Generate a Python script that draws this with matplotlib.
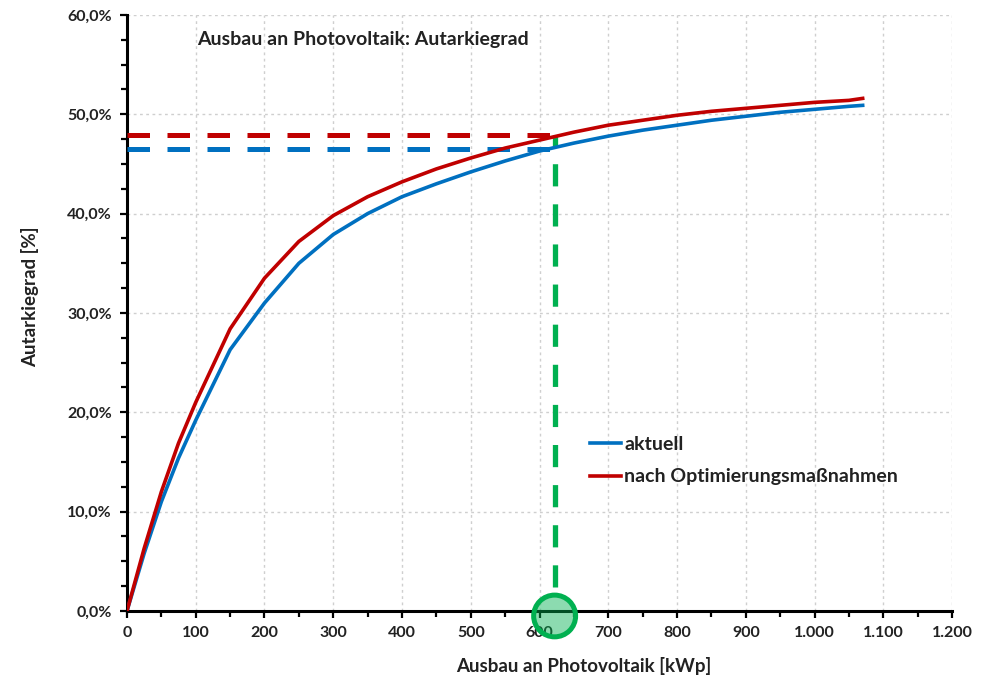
import matplotlib.pyplot as plt
from matplotlib.ticker import MultipleLocator, FuncFormatter
from matplotlib.patches import Ellipse

plt.rcParams['font.family'] = ['Lato', 'DejaVu Sans']

# Daten: Ausbau PV [kWp] und Autarkiegrad [%]
ausbau = [0, 25, 50, 75, 100, 150, 200, 250, 300, 350, 400, 450, 500, 550, 600,
          650, 700, 750, 800, 850, 900, 950, 1000, 1050, 1070]
aktuell = [0.0, 5.8, 11.0, 15.4, 19.2, 26.3, 31.0, 35.0, 37.9, 40.0, 41.7, 43.0,
           44.2, 45.3, 46.3, 47.1, 47.8, 48.4, 48.9, 49.4, 49.8, 50.2, 50.5, 50.8, 50.9]
optimiert = [0.0, 6.3, 12.0, 16.9, 21.0, 28.4, 33.5, 37.2, 39.8, 41.7, 43.2, 44.5,
             45.6, 46.6, 47.4, 48.2, 48.9, 49.4, 49.9, 50.3, 50.6, 50.9, 51.2, 51.4, 51.6]

ausbau_markiert = 622
autarkie_aktuell = 46.5
autarkie_optimiert = 47.9

blau = '#0070C0'
rot = '#C00000'
gruen = '#00B050'

fig = plt.figure(figsize=(9.82, 6.82), dpi=100)
ax = fig.add_axes([0.1293, 0.1041, 0.8402, 0.874])

ax.plot(ausbau, aktuell, color=blau, lw=2.6, label='aktuell', zorder=4,
        solid_joinstyle='round')
ax.plot(ausbau, optimiert, color=rot, lw=2.6, label='nach Optimierungsmaßnahmen',
        zorder=4, solid_joinstyle='round')

# Hilfslinien zum markierten Ausbau
ax.plot([0, ausbau_markiert], [autarkie_optimiert, autarkie_optimiert], color=rot,
        lw=3.6, dashes=(4.5, 3.5), zorder=3)
ax.plot([0, ausbau_markiert], [autarkie_aktuell, autarkie_aktuell], color=blau,
        lw=3.6, dashes=(4.5, 3.5), zorder=3)
ax.plot([ausbau_markiert, ausbau_markiert], [2.4, autarkie_optimiert], color=gruen,
        lw=3.8, dashes=(4.2, 3.4), zorder=3)

kreis = Ellipse((ausbau_markiert, -0.5), width=61, height=4.2, facecolor=gruen,
                alpha=0.45, edgecolor='none', zorder=5, clip_on=False)
ax.add_patch(kreis)
rand = Ellipse((ausbau_markiert, -0.5), width=61, height=4.2, facecolor='none',
               edgecolor=gruen, lw=3.6, zorder=6, clip_on=False)
ax.add_patch(rand)

ax.set_xlim(0, 1200)
ax.set_ylim(0, 60)
ax.xaxis.set_major_locator(MultipleLocator(100))
ax.xaxis.set_minor_locator(MultipleLocator(50))
ax.yaxis.set_major_locator(MultipleLocator(10))
ax.yaxis.set_minor_locator(MultipleLocator(2.5))

ax.xaxis.set_major_formatter(FuncFormatter(lambda v, p: f'{int(v):,}'.replace(',', '.')))
ax.yaxis.set_major_formatter(FuncFormatter(lambda v, p: f'{v:.1f}%'.replace('.', ',')))

for s in ['top', 'right']:
    ax.spines[s].set_visible(False)
for s in ['left', 'bottom']:
    ax.spines[s].set_linewidth(2.2)

ax.tick_params(which='both', direction='out', width=1.6, colors='black')
ax.tick_params(which='major', length=5, labelsize=11.5, pad=6)
ax.tick_params(which='minor', length=4)
for lbl in ax.get_xticklabels() + ax.get_yticklabels():
    lbl.set_fontweight('bold')
    lbl.set_color('#222222')

ax.grid(True, which='major', color='#cfcfcf', linestyle=(0, (2, 2.5)), lw=1.0)
ax.set_axisbelow(True)

ax.set_xlabel('Ausbau an Photovoltaik [kWp]', fontsize=13.5, fontweight='bold',
              color='#222222')
ax.set_ylabel('Autarkiegrad [%]', fontsize=13.5, fontweight='bold', color='#222222')
ax.xaxis.set_label_coords(0.553, -0.077)
ax.yaxis.set_label_coords(-0.106, 0.528)

ax.text(0.085, 0.958, 'Ausbau an Photovoltaik: Autarkiegrad', transform=ax.transAxes,
        fontsize=14, fontweight='bold', color='#222222', va='center')

leg = ax.legend(loc='upper left', bbox_to_anchor=(0.552, 0.307), frameon=False,
                handlelength=1.6, handletextpad=0.15, labelspacing=0.8, fontsize=14,
                borderaxespad=0.0)
for t in leg.get_texts():
    t.set_fontweight('bold')
    t.set_color('#222222')

fig.savefig('out.png', dpi=100)
